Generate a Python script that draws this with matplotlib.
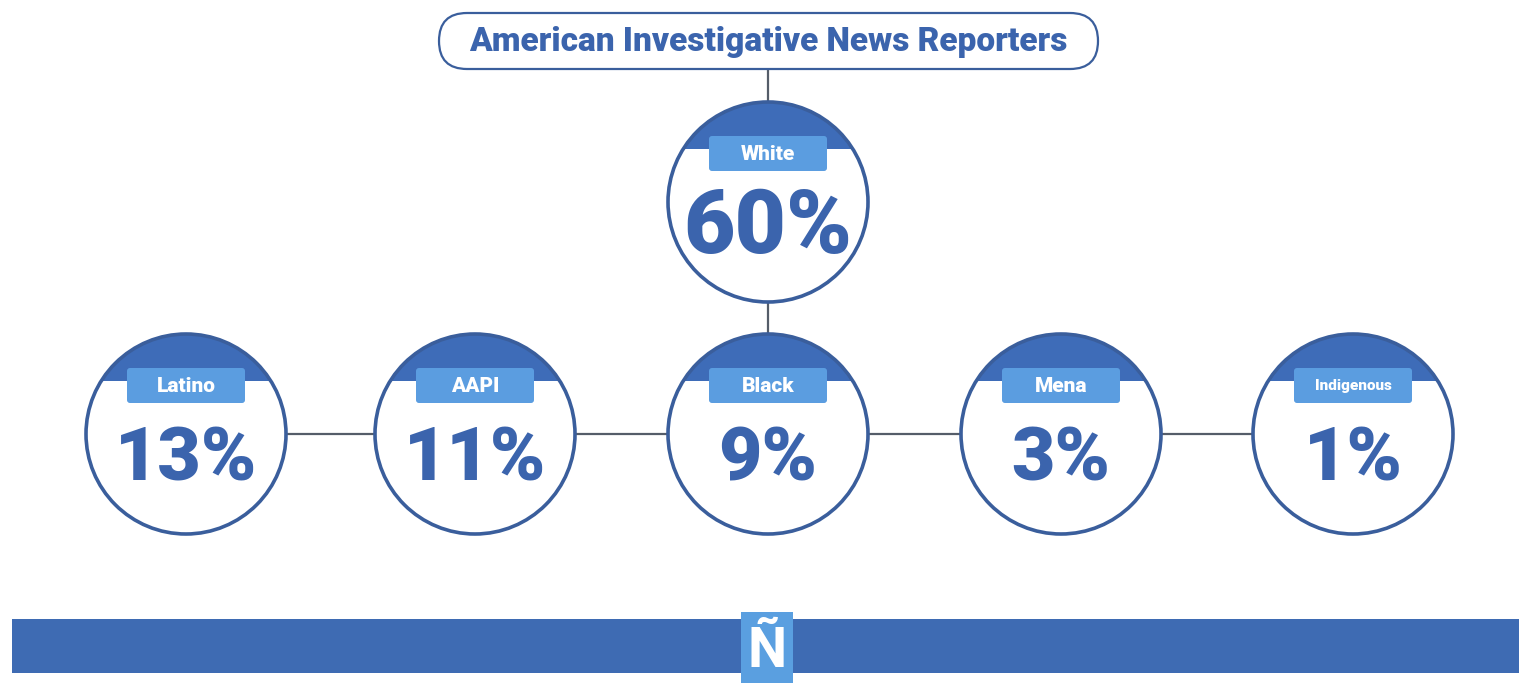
import numpy as np
import matplotlib
matplotlib.use("agg")
import matplotlib.pyplot as plt
from matplotlib.patches import Circle, Rectangle, FancyBboxPatch

# data
title = "American Investigative News Reporters"
top_group = "White"
top_value = 60
groups = ["Latino", "AAPI", "Black", "Mena", "Indigenous"]
values = [13, 11, 9, 3, 1]

# layout (pixels)
row_x = [186, 475, 768, 1061, 1353]
row_y = 434
top_x, top_y = 768, 202
R = 100

dark = "#3b64ad"
cap_col = "#3e6cb8"
box_col = "#5b9de0"
line_col = "#555d69"
edge_col = "#3a5e9c"

plt.rcParams['font.family'] = ['Roboto', 'DejaVu Sans']

fig = plt.figure(figsize=(15.19, 6.83), dpi=100)
ax = fig.add_axes([0, 0, 1, 1])
ax.set_xlim(0, 1519)
ax.set_ylim(683, 0)
ax.set_aspect('equal')
ax.axis('off')


def node(cx, cy, name, val, big=54, small=15):
    ax.add_patch(Circle((cx, cy), R, facecolor="white", edgecolor="none", zorder=2))
    clip = Rectangle((cx - R, cy - R), 2 * R, 47, transform=ax.transData)
    cap = Circle((cx, cy), R, facecolor=cap_col, edgecolor="none", zorder=3)
    ax.add_patch(cap)
    cap.set_clip_path(clip)
    ax.add_patch(Circle((cx, cy), R, facecolor="none", edgecolor=edge_col, lw=2.6, zorder=4))
    ax.add_patch(FancyBboxPatch((cx - 59, cy - 66), 118, 35,
                                boxstyle="round,pad=0,rounding_size=3",
                                facecolor=box_col, edgecolor="none", zorder=5))
    ax.text(cx, cy - 48, name, ha="center", va="center", color="white",
            fontsize=small, fontweight="black", zorder=6)
    ax.text(cx, cy + 26, f"{val}%", ha="center", va="center", color=dark,
            fontsize=big, fontweight="black", zorder=6)


# connectors
ax.plot([top_x, top_x], [70, top_y - R], color=line_col, lw=1.6, zorder=1)
ax.plot([top_x, top_x], [top_y + R, row_y - R], color=line_col, lw=1.6, zorder=1)
for i in range(len(row_x) - 1):
    ax.plot([row_x[i] + R, row_x[i + 1] - R], [row_y, row_y], color=line_col, lw=1.6, zorder=1)

# title box
ax.add_patch(FancyBboxPatch((439, 13), 659, 56, boxstyle="round,pad=0,rounding_size=28",
                            facecolor="white", edgecolor=edge_col, lw=1.6, zorder=2))
ax.text(768, 42, title, ha="center", va="center", color=dark,
        fontsize=24, fontweight="black", zorder=3)

node(top_x, top_y, top_group, top_value, big=64, small=15)
for x, g, v in zip(row_x, groups, values):
    node(x, row_y, g, v, small=11 if len(g) > 8 else 15)

# footer band with logo
ax.add_patch(Rectangle((12, 619), 1507, 54, facecolor="#3e6bb3", edgecolor="none", zorder=1))
ax.add_patch(Rectangle((741, 612), 52, 71, facecolor="#5a9fe0", edgecolor="none", zorder=2))
ax.text(767, 652, "Ñ", ha="center", va="center", color="white",
        fontsize=40, fontweight="bold", zorder=3)

plt.savefig("out.png", dpi=100)
